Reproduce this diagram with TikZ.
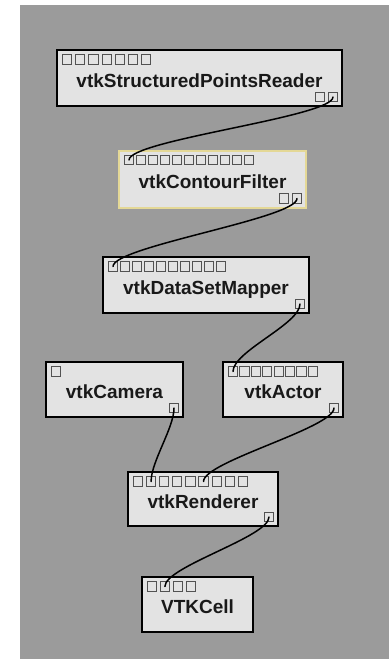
\documentclass[tikz,border=0pt]{standalone}
\usepackage{fontspec}
\setmainfont{Liberation Sans}
\usetikzlibrary{calc}

\definecolor{canvasgray}{RGB}{155,155,155}
\definecolor{boxfill}{RGB}{227,227,227}
\definecolor{portline}{RGB}{82,82,82}
\definecolor{selectline}{RGB}{228,216,150}
\definecolor{labelink}{RGB}{25,25,25}

% row of input ports along the top edge of a module (name, count, pitch)
\newcommand\inportrow[3]{%
  \foreach \i in {1,...,#2}
    \node[port] (#1-in\i) at ($(#1.north west)+({10+#3*(\i-1)},9.5)$) {};}
% row of output ports in the lower right corner of a module
\newcommand\outportrow[2]{%
  \foreach \i in {1,...,#2}
    \node[port] (#1-out\i) at ($(#1.south east)+({-9-13*(#2-\i)},-9)$) {};}

\begin{document}
\begin{tikzpicture}[x=1pt,y=-1pt,
  module/.style={draw=black, line width=1.6pt, fill=boxfill, rectangle,
    inner sep=0pt, outer sep=0pt},
  selected/.style={draw=selectline, line width=2pt},
  port/.style={draw=portline, line width=1pt, fill=boxfill, rectangle,
    minimum size=9.2pt, inner sep=0pt},
  title/.style={font=\bfseries\fontsize{19}{21}\selectfont, text=labelink,
    inner sep=0pt, anchor=base},
  wire/.style={draw=black, line width=1.5pt, line cap=round}]

\useasboundingbox (0,0) rectangle (389,659);
\fill[white] (0,0) rectangle (389,659);
\fill[canvasgray] (20,5) rectangle (389,659);

% modules
\node[module, minimum width=285pt, minimum height=56pt] (reader) at (199.5,78) {};
\node[module, selected, minimum width=187pt, minimum height=57pt] (contour) at (212.5,179) {};
\node[module, minimum width=206pt, minimum height=56pt] (mapper) at (206,285) {};
\node[module, minimum width=137pt, minimum height=55pt] (camera) at (114.5,389.5) {};
\node[module, minimum width=120pt, minimum height=55pt] (actor) at (283,389.5) {};
\node[module, minimum width=150pt, minimum height=54pt] (renderer) at (203,499) {};
\node[module, minimum width=111pt, minimum height=55pt] (cell) at (197.5,604.5) {};

% module titles
\node[title] (reader-label) at ($(reader.center)+(0,9.3)$) {vtkStructuredPointsReader};
\node[title] (contour-label) at ($(contour.center)+(0,9.3)$) {vtkContourFilter};
\node[title] (mapper-label) at ($(mapper.center)+(0,9.3)$) {vtkDataSetMapper};
\node[title] (camera-label) at ($(camera.center)+(0,9.3)$) {vtkCamera};
\node[title] (actor-label) at ($(actor.center)+(0,9.3)$) {vtkActor};
\node[title] (renderer-label) at ($(renderer.center)+(0,9.3)$) {vtkRenderer};
\node[title] (cell-label) at ($(cell.center)+(0,9.3)$) {VTKCell};

% ports
\inportrow{reader}{7}{13.2}   \outportrow{reader}{2}
\inportrow{contour}{11}{12}   \outportrow{contour}{2}
\inportrow{mapper}{10}{12}    \outportrow{mapper}{1}
\inportrow{camera}{1}{12}     \outportrow{camera}{1}
\inportrow{actor}{8}{11.4}    \outportrow{actor}{1}
\inportrow{renderer}{9}{13.1} \outportrow{renderer}{1}
\inportrow{cell}{4}{12.9}

% pipeline connections
\draw[wire] (reader-out2.center) .. controls +(0,20) and +(0,-20) .. (contour-in1.center);
\draw[wire] (contour-out2.center) .. controls +(0,20) and +(0,-20) .. (mapper-in1.center);
\draw[wire] (mapper-out1.center) .. controls +(0,20) and +(0,-20) .. (actor-in1.center);
\draw[wire] (camera-out1.center) .. controls +(0,20) and +(0,-20) .. (renderer-in2.center);
\draw[wire] (actor-out1.center) .. controls +(0,20) and +(0,-20) .. (renderer-in6.center);
\draw[wire] (renderer-out1.center) .. controls +(0,20) and +(0,-20) .. (cell-in2.center);

\end{tikzpicture}
\end{document}
